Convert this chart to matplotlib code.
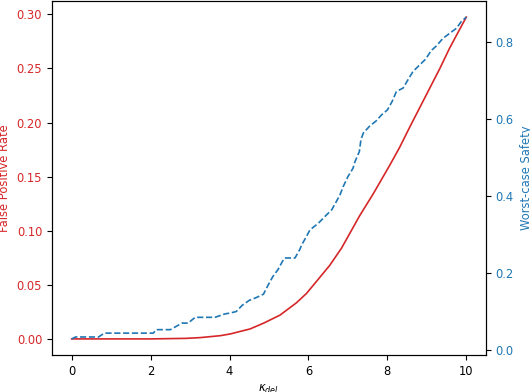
import numpy as np
import matplotlib
matplotlib.use("Agg")
import matplotlib.pyplot as plt

# false positive rate vs kappa_del
fpr_kappa = [0.0, 1.0, 2.0, 2.9, 3.26, 3.77, 4.02, 4.52, 4.86, 5.28, 5.7, 5.95, 6.2, 6.54,
             6.84, 7.3, 7.64, 8.06, 8.31, 8.57, 8.95, 9.33, 9.58, 9.83, 10.0]
fpr = [0.0, 0.0, 0.0, 0.0005, 0.0012, 0.003, 0.0046, 0.0092, 0.0145, 0.022, 0.0335, 0.042,
       0.053, 0.068, 0.084, 0.114, 0.134, 0.1605, 0.177, 0.196, 0.223, 0.250, 0.269, 0.286,
       0.2975]

# worst-case safety vs kappa_del
safety_kappa = [0.0, 0.1, 0.68, 0.83, 2.07, 2.14, 2.5, 2.71, 2.8, 2.95, 3.13, 3.63, 3.89, 4.01,
                4.17, 4.32, 4.5, 4.65, 4.86, 4.98, 5.1, 5.23, 5.34, 5.40, 5.66, 5.78, 5.83,
                5.95, 6.04, 6.25, 6.42, 6.59, 6.71, 6.8, 6.88, 7.0, 7.13, 7.18, 7.29, 7.33,
                7.39, 7.55, 7.72, 7.85, 8.0, 8.12, 8.23, 8.4, 8.52, 8.65, 8.82, 8.97, 9.11,
                9.24, 9.41, 9.58, 9.75, 9.87, 10.0]
safety = [0.030, 0.035, 0.035, 0.045, 0.045, 0.054, 0.054, 0.066, 0.071, 0.071, 0.086, 0.086,
          0.095, 0.097, 0.101, 0.117, 0.13, 0.136, 0.146, 0.17, 0.192, 0.21, 0.231, 0.24,
          0.24, 0.262, 0.274, 0.296, 0.313, 0.33, 0.348, 0.365, 0.387, 0.404, 0.425, 0.451,
          0.473, 0.49, 0.516, 0.547, 0.564, 0.582, 0.596, 0.611, 0.624, 0.646, 0.672, 0.681,
          0.702, 0.724, 0.741, 0.756, 0.778, 0.79, 0.81, 0.823, 0.836, 0.853, 0.865]

plt.rcParams['font.size'] = 8.3

fig = plt.figure(figsize=(5.3, 3.92), dpi=100)
ax1 = fig.add_axes([0.098, 0.0944, 0.819, 0.903])
ax2 = ax1.twinx()

ax1.plot(fpr_kappa, fpr, color='tab:red', lw=1.2)
ax1.set_ylabel('False Positive Rate', color='tab:red')
ax1.tick_params(axis='y', labelcolor='tab:red')
ax1.set_xlabel(r'$\kappa_{del}$')

ax2.plot(safety_kappa, safety, color='tab:blue', lw=1.2, linestyle='--')
ax2.set_ylabel('Worst-case Safety', color='tab:blue')
ax2.tick_params(axis='y', labelcolor='tab:blue')

fig.savefig('out.png', dpi=100)
